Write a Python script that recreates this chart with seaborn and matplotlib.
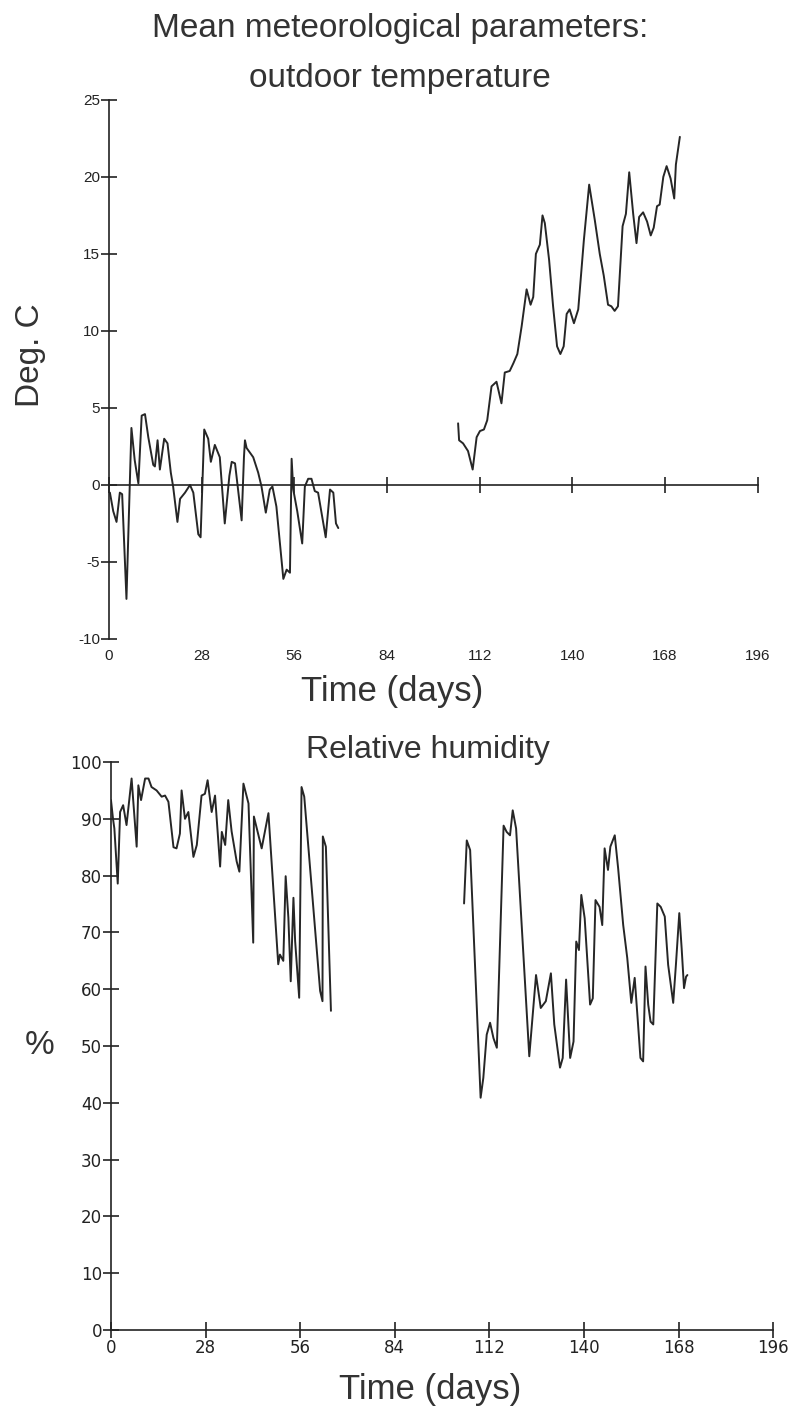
"""
Mean meteorological parameters: outdoor temperature and relative humidity.
Two stacked line charts with a gap in the record between the two periods.
"""

import matplotlib
matplotlib.use("Agg")
import matplotlib.pyplot as plt
import seaborn as sns
import pandas as pd

# ---- data ----
day_ticks = [0, 28, 56, 84, 112, 140, 168, 196]
temp_ticks = [-10, -5, 0, 5, 10, 15, 20, 25]
rh_ticks = [0, 10, 20, 30, 40, 50, 60, 70, 80, 90, 100]

# outdoor temperature, first period
temp_days_a = [0.3, 1.3, 2.3, 3.3, 4.0, 5.3, 6.8, 7.8, 8.9, 9.9,
               10.9, 11.9, 13.4, 13.9, 14.7, 15.4, 16.7, 17.7, 18.7, 19.4,
               20.7, 21.5, 23.0, 24.5, 25.5, 27.0, 27.7, 28.8, 30.0, 30.8,
               32.0, 33.5, 35.0, 36.4, 37.1, 38.1, 40.1, 40.8, 41.1, 41.6,
               43.6, 45.1, 46.1, 47.4, 48.6, 49.4, 50.6, 52.7, 53.7, 54.7,
               55.2, 55.7, 56.9, 58.4, 59.2, 60.2, 61.2, 62.2, 63.2, 65.5,
               66.8, 67.8, 68.6, 69.3]
temp_a = [-0.5, -1.7, -2.4, -0.5, -0.6, -7.4, 3.7, 1.6, 0.1, 4.5,
          4.6, 3.1, 1.3, 1.2, 2.9, 1.0, 3.0, 2.7, 0.8, -0.1,
          -2.4, -0.9, -0.5, 0.0, -0.5, -3.2, -3.4, 3.6, 3.0, 1.5,
          2.6, 1.8, -2.5, 0.6, 1.5, 1.4, -2.3, 1.8, 2.9, 2.4,
          1.8, 0.8, -0.1, -1.8, -0.3, -0.1, -1.4, -6.1, -5.5, -5.7,
          1.7, -0.3, -1.7, -3.8, -0.1, 0.4, 0.4, -0.4, -0.5, -3.4,
          -0.3, -0.5, -2.5, -2.8]

# outdoor temperature, second period
temp_days_b = [105.5, 105.8, 107.0, 108.5, 109.9, 111.1, 112.1, 113.3, 114.3, 115.6,
               117.1, 118.6, 119.6, 121.1, 122.2, 123.4, 124.7, 126.2, 127.4, 128.2,
               129.0, 130.2, 131.0, 131.7, 133.0, 134.2, 135.4, 136.4, 137.4, 138.3,
               139.2, 140.5, 141.8, 143.5, 145.1, 146.8, 148.3, 149.5, 150.8, 151.8,
               152.8, 153.8, 155.2, 156.2, 157.2, 158.4, 159.4, 160.2, 161.4, 162.6,
               163.7, 164.6, 165.6, 166.4, 167.5, 168.5, 169.7, 170.8, 171.3, 172.5]
temp_b = [4.0, 2.9, 2.7, 2.2, 1.0, 3.1, 3.5, 3.6, 4.2, 6.4,
          6.7, 5.3, 7.3, 7.4, 7.9, 8.5, 10.3, 12.7, 11.7, 12.2,
          15.0, 15.6, 17.5, 17.0, 14.6, 11.6, 9.0, 8.5, 9.0, 11.1,
          11.4, 10.5, 11.4, 15.9, 19.5, 17.2, 15.0, 13.6, 11.7, 11.6,
          11.3, 11.6, 16.8, 17.6, 20.3, 17.6, 15.7, 17.4, 17.7, 17.1,
          16.2, 16.7, 18.1, 18.2, 20.0, 20.7, 19.9, 18.6, 20.8, 22.6]

# relative humidity, first period
rh_days_a = [0.0, 0.6, 1.0, 2.0, 2.7, 3.6, 4.6, 6.1, 7.6, 8.1,
             8.9, 10.1, 11.1, 12.0, 13.5, 15.0, 16.0, 17.0, 18.5, 19.4,
             20.4, 20.9, 21.9, 22.9, 24.4, 25.4, 26.8, 27.8, 28.6, 29.8,
             30.8, 32.3, 32.8, 33.8, 34.7, 35.7, 37.2, 38.0, 39.2, 40.7,
             42.1, 42.3, 44.6, 46.6, 49.5, 50.0, 51.0, 51.7, 52.5, 53.2,
             54.0, 54.5, 55.7, 56.4, 57.2, 61.9, 62.6, 62.7, 63.6, 65.1]
rh_a = [93.3, 90.0, 88.3, 78.6, 91.2, 92.4, 88.9, 97.1, 85.1, 95.9,
        93.3, 97.1, 97.1, 95.6, 95.0, 93.9, 94.1, 93.0, 85.0, 84.8,
        87.4, 95.0, 90.0, 91.2, 83.3, 85.4, 94.1, 94.4, 96.8, 91.2,
        94.1, 81.6, 87.7, 85.4, 93.3, 87.8, 82.5, 80.7, 96.2, 92.7,
        68.2, 90.4, 84.8, 91.0, 64.4, 66.1, 65.0, 79.9, 72.6, 61.4,
        76.1, 68.5, 58.5, 95.6, 93.9, 59.7, 57.9, 86.9, 85.1, 56.2]

# relative humidity, second period
rh_days_b = [104.5, 105.3, 106.3, 109.4, 110.2, 111.2, 112.2, 113.2, 114.2, 116.2,
             117.1, 118.1, 118.9, 119.9, 123.8, 125.8, 127.2, 128.7, 130.2, 131.2,
             132.9, 133.7, 134.7, 135.9, 136.9, 137.7, 138.5, 139.2, 140.2, 141.8,
             142.6, 143.4, 144.6, 145.4, 146.1, 147.1, 147.8, 149.1, 150.1, 151.6,
             152.8, 154.0, 155.0, 156.0, 156.7, 157.5, 158.2, 159.0, 159.7, 160.5,
             161.7, 162.7, 163.9, 164.9, 166.4, 167.2, 168.2, 168.9, 169.6, 170.2,
             170.6]
rh_b = [75.1, 86.2, 84.5, 40.9, 44.4, 52.0, 54.1, 51.4, 49.7, 88.8,
        87.7, 87.1, 91.5, 88.3, 48.2, 62.5, 56.7, 57.9, 62.8, 53.8,
        46.2, 47.9, 61.7, 47.9, 50.8, 68.4, 66.9, 76.6, 72.5, 57.3,
        58.4, 75.7, 74.5, 71.3, 84.8, 81.0, 85.1, 87.1, 81.3, 71.3,
        65.5, 57.6, 62.0, 53.8, 47.9, 47.3, 64.0, 57.3, 54.3, 53.8,
        75.1, 74.5, 72.8, 64.3, 57.6, 64.3, 73.4, 67.2, 60.2, 62.2,
        62.5]

temp_df = pd.concat([
    pd.DataFrame({"day": temp_days_a, "value": temp_a, "period": "a"}),
    pd.DataFrame({"day": temp_days_b, "value": temp_b, "period": "b"}),
])
rh_df = pd.concat([
    pd.DataFrame({"day": rh_days_a, "value": rh_a, "period": "a"}),
    pd.DataFrame({"day": rh_days_b, "value": rh_b, "period": "b"}),
])

# ---- style ----
sns.set_theme(style="white")
plt.rcParams['font.family'] = ['Liberation Sans', 'DejaVu Sans']
plt.rcParams['axes.unicode_minus'] = False
line_color = "#262626"
axis_color = "#222222"
text_color = "#333333"

fig = plt.figure(figsize=(7.95, 14.13), dpi=100)
ax1 = fig.add_axes([0.137, 0.5478, 0.816, 0.3815])
ax2 = fig.add_axes([0.1396, 0.0587, 0.833, 0.402])

# ---- top: outdoor temperature ----
sns.lineplot(data=temp_df, x="day", y="value", units="period", estimator=None,
             color=line_color, lw=1.4, ax=ax1, legend=False)
ax1.set_xlim(0, 196)
ax1.set_ylim(-10, 25)
ax1.set_xticks(day_ticks)
ax1.set_yticks(temp_ticks)
for s in ["top", "right"]:
    ax1.spines[s].set_visible(False)
# x axis line runs through zero with crossing ticks; labels go underneath
ax1.spines["bottom"].set_position(("data", 0))
for s in ["left", "bottom"]:
    ax1.spines[s].set_color(axis_color)
    ax1.spines[s].set_linewidth(1.2)
ax1.tick_params(axis="x", bottom=True, direction="inout", length=11, width=1.2,
                labelbottom=False, colors=axis_color)
ax1.tick_params(axis="y", left=True, direction="inout", length=11, width=1.2,
                pad=1, labelsize=11, colors=axis_color)
ax1.set_xlabel("")
ax1.set_ylabel("")

day_labels = ax1.secondary_xaxis("bottom")
day_labels.set_xticks(day_ticks)
day_labels.spines["bottom"].set_visible(False)
day_labels.tick_params(length=0, pad=7, labelsize=11, colors=axis_color)

# ---- bottom: relative humidity ----
sns.lineplot(data=rh_df, x="day", y="value", units="period", estimator=None,
             color=line_color, lw=1.4, ax=ax2, legend=False)
ax2.set_xlim(0, 196)
ax2.set_ylim(0, 100)
ax2.set_xticks(day_ticks)
ax2.set_yticks(rh_ticks)
for s in ["top", "right"]:
    ax2.spines[s].set_visible(False)
for s in ["left", "bottom"]:
    ax2.spines[s].set_color(axis_color)
    ax2.spines[s].set_linewidth(1.2)
ax2.tick_params(axis="both", left=True, bottom=True, direction="inout",
                length=11, width=1.2, pad=1, labelsize=12, colors=axis_color)
ax2.set_xlabel("")
ax2.set_ylabel("")
for lab in ax2.get_xticklabels() + ax2.get_yticklabels():
    lab.set_family(["DejaVu Sans"])

# ---- titles and axis labels ----
fig.text(0.503, 1 - 28 / 1413, "Mean meteorological parameters:", ha="center",
         va="center", fontsize=24, color=text_color)
fig.text(0.503, 1 - 78 / 1413, "outdoor temperature", ha="center",
         va="center", fontsize=24, color=text_color)
fig.text(392 / 795, 1 - 692 / 1413, "Time (days)", ha="center", va="center",
         fontsize=25, color=text_color)
fig.text(30 / 795, 1 - 355 / 1413, "Deg. C", ha="center", va="center",
         rotation=90, fontsize=24, color=text_color)

fig.text(428 / 795, 1 - 750 / 1413, "Relative humidity", ha="center",
         va="center", fontsize=23, color=text_color)
fig.text(430 / 795, 1 - 1390 / 1413, "Time (days)", ha="center", va="center",
         fontsize=25, color=text_color)
fig.text(40 / 795, 1 - 1045 / 1413, "%", ha="center", va="center",
         fontsize=24, color=text_color)

fig.savefig("out.png", dpi=100)
print("saved out.png")
